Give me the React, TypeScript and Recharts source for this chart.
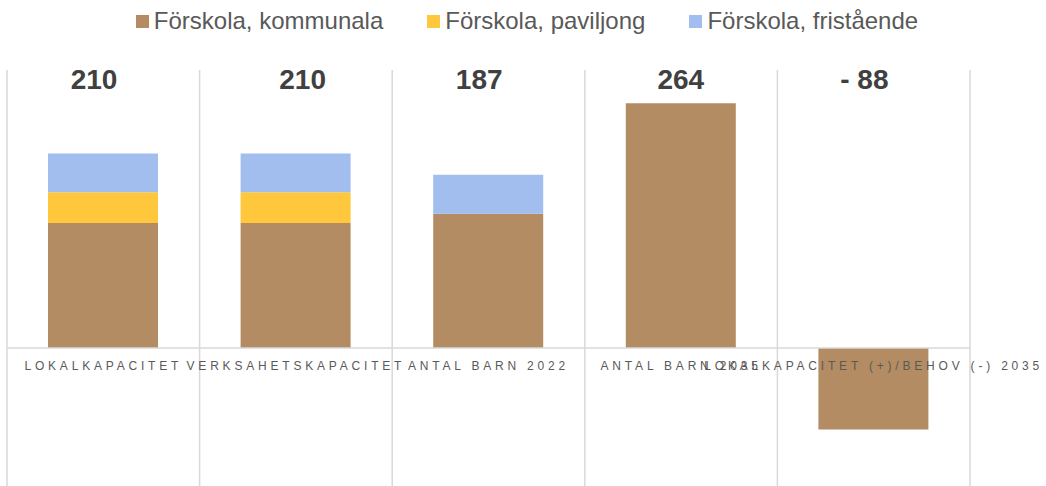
import { BarChart, Bar, XAxis, YAxis, CartesianGrid, Legend, LabelList, ReferenceLine } from 'recharts';

const categories = [
  'LOKALKAPACITET',
  'VERKSAHETSKAPACITET',
  'ANTAL BARN 2022',
  'ANTAL BARN 2035',
  'LOKALKAPACITET (+)/BEHOV (-) 2035',
];
const kommunala = [135, 135, 145, 264, -88];
const paviljong = [33, 33, 0, 0, 0];
const fristaende = [42, 42, 42, 0, 0];
const totals = [210, 210, 187, 264, -88];

const series = [
  { key: 'kommunala', name: 'Förskola, kommunala', color: '#b48c63' },
  { key: 'paviljong', name: 'Förskola, paviljong', color: '#ffc73b' },
  { key: 'fristaende', name: 'Förskola, fristående', color: '#a1beef' },
];

// the total labels are hand placed text boxes in the original, slightly off centre
const labelShift = [-9, 7, -9, 0, -9];

const data = categories.map((name, i) => ({
  name,
  kommunala: kommunala[i],
  paviljong: paviljong[i],
  fristaende: fristaende[i],
  total: totals[i],
}));

const FONT = '"Liberation Sans", Arial, sans-serif';
const TOP = 70;

function CategoryTick(props: any) {
  const { x, payload } = props;
  return (
    <text
      x={x}
      y={370}
      textAnchor="middle"
      fill="#595959"
      fontSize={12}
      fontFamily={FONT}
      style={{ letterSpacing: '3.8px' }}
    >
      {payload.value}
    </text>
  );
}

function TotalLabel(props: any) {
  const { x, width, value, index } = props;
  const text = value < 0 ? `- ${Math.abs(value)}` : `${value}`;
  return (
    <text
      x={x + width / 2 + (labelShift[index] || 0)}
      y={TOP + 19}
      textAnchor="middle"
      fill="#404040"
      fontSize={28}
      fontWeight="bold"
      fontFamily={FONT}
    >
      {text}
    </text>
  );
}

function LegendContent() {
  return (
    <div style={{ display: 'flex', justifyContent: 'center', gap: 44, fontFamily: FONT, paddingLeft: 8 }}>
      {series.map((s) => (
        <div key={s.key} style={{ display: 'flex', alignItems: 'center', gap: 5 }}>
          <span style={{ width: 13, height: 13, background: s.color, display: 'inline-block' }} />
          <span style={{ fontSize: 24, color: '#595959' }}>{s.name}</span>
        </div>
      ))}
    </div>
  );
}

export default function App() {
  return (
    <div style={{ position: 'absolute', left: 0, top: 0, width: 1046, height: 486, overflow: 'hidden', background: '#fff' }}>
      <BarChart
        width={1046}
        height={488}
        data={data}
        margin={{ top: TOP, right: 76, bottom: 0, left: 7 }}
        barSize={110}
      >
        <CartesianGrid
          horizontal={false}
          stroke="#d9d9d9"
          strokeWidth={1.5}
          verticalCoordinatesGenerator={({ offset }: any) =>
            categories.map((_, i) => offset.left + (i * offset.width) / categories.length).concat(offset.left + offset.width)
          }
        />
        <XAxis
          dataKey="name"
          axisLine={false}
          tickLine={false}
          interval={0}
          height={1}
          tick={<CategoryTick />}
        />
        <YAxis hide domain={[-150, 300]} allowDataOverflow />
        <ReferenceLine y={0} stroke="#d9d9d9" strokeWidth={1.5} />
        <Legend
          verticalAlign="middle"
          align="center"
          layout="horizontal"
          wrapperStyle={{ top: 7, left: 0, width: 1046 }}
          content={<LegendContent />}
        />
        {series.map((s, idx) => (
          <Bar key={s.key} dataKey={s.key} name={s.name} stackId="a" fill={s.color} isAnimationActive={false}>
            {idx === 0 && <LabelList dataKey="total" content={<TotalLabel />} />}
          </Bar>
        ))}
      </BarChart>
    </div>
  );
}
